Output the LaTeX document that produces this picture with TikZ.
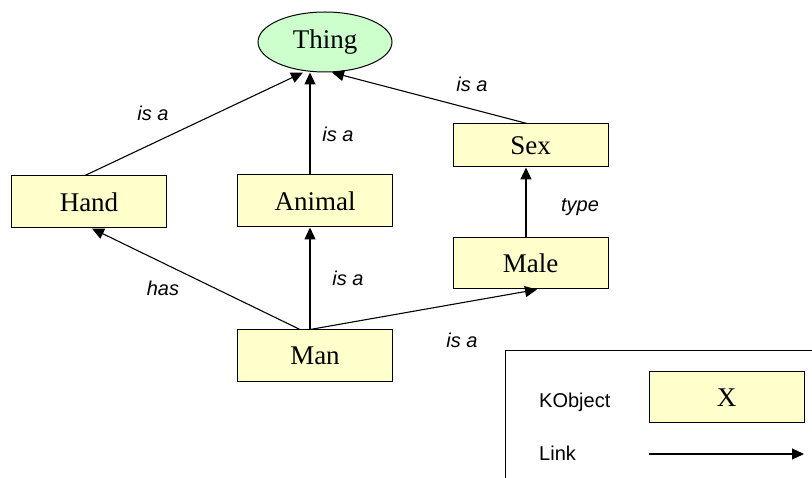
\documentclass[tikz,border=0pt]{standalone}
\usepackage{fontspec}
\setmainfont{Liberation Serif}
\newfontfamily\lblfont{Liberation Sans}
\usetikzlibrary{shapes.geometric,arrows.meta}
\definecolor{boxfill}{HTML}{FFFFCC}
\definecolor{thingfill}{HTML}{CCFFCC}
\begin{document}
\begin{tikzpicture}[x=1pt,y=-1pt,
  kbox/.style={draw=black,line width=1pt,fill=boxfill,minimum width=155pt,minimum height=52pt,inner sep=0pt,font=\fontsize{27}{31}\selectfont},
  kell/.style={draw=black,line width=1pt,fill=thingfill,ellipse,minimum width=134pt,minimum height=60pt,inner sep=0pt,font=\fontsize{27}{31}\selectfont},
  lbl/.style={font=\lblfont\itshape\fontsize{20}{24}\selectfont,inner sep=0pt},
  legtxt/.style={font=\lblfont\fontsize{20}{24}\selectfont,inner sep=0pt,anchor=west},
  arr/.style={line width=1.1pt,-{Triangle[length=12pt,width=11pt]}}
]
\useasboundingbox (0,0) rectangle (812,478);
% nodes
\node[kell] (Thing) at (325,42) {Thing};
\node[kbox] (Hand) at (89,202) {Hand};
\node[kbox] (Animal) at (315,201) {Animal};
\node[kbox,minimum height=43pt] (Sex) at (530.5,145.5) {Sex};
\node[kbox,minimum height=51pt] (Male) at (530.5,263.5) {Male};
\node[kbox] (Man) at (315,356) {Man};
% connectors
\draw[arr] ([xshift=-4pt]Hand.north) -- ([xshift=-22pt]Thing.south);
\draw[arr] ([xshift=-5pt]Animal.north) -- ([xshift=-15pt]Thing.south);
\draw[arr] ([xshift=-3.5pt]Sex.north) -- ([xshift=7pt]Thing.south);
\draw[arr] ([xshift=-4.5pt]Male.north) -- ([xshift=-4.5pt]Sex.south);
\draw[arr] ([xshift=-15pt]Man.north) -- ([xshift=3pt]Hand.south);
\draw[arr] ([xshift=-5pt]Man.north) -- ([xshift=-5pt]Animal.south);
\draw[arr] ([xshift=-5pt]Man.north) -- ([xshift=6.5pt]Male.south);
% labels
\node[lbl] (l1) at (153,113) {is a};
\node[lbl] (l2) at (338,134) {is a};
\node[lbl] (l3) at (472,84) {is a};
\node[lbl] (l4) at (580,207) {type};
\node[lbl] (l5) at (163,288) {has};
\node[lbl] (l6) at (348,278) {is a};
\node[lbl] (l7) at (462,340) {is a};
% legend
\draw[line width=1pt] (505,478) -- (505,351) -- (812,351);
\node[legtxt] (kobj) at (539,402) {KObject};
\node[kbox,minimum height=51pt] (X) at (726.5,397.5) {X};
\node[legtxt] (link) at (539,453) {Link};
\coordinate (ls) at (649,454);
\coordinate (le) at (804,454);
\draw[arr] (ls) -- (le);
\end{tikzpicture}
\end{document}
